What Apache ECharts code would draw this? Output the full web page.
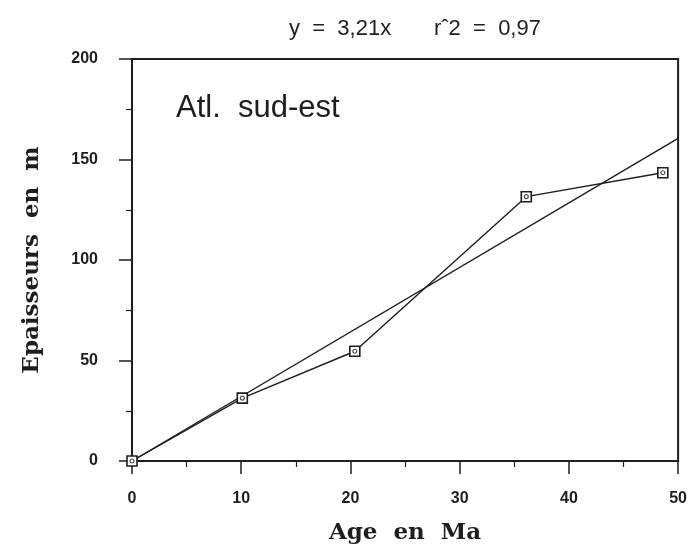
<!DOCTYPE html>
<html>
<head>
<meta charset="utf-8">
<script src="https://cdn.jsdelivr.net/npm/echarts@6/dist/echarts.min.js"></script>
<style>
  html, body { margin: 0; padding: 0; background: #fff; }
  #chart { width: 690px; height: 550px; }
</style>
</head>
<body>
<div id="chart"></div>
<script>
// Sediment thickness vs. age, south-east Atlantic
const ages = [0, 10.1, 20.4, 36.1, 48.6];           // Ma
const thickness = [0, 31.3, 54.6, 131.5, 143.4];    // m
const fitLine = [[0, 0], [50, 160.5]];              // y = 3,21x
const xTicks = [0, 10, 20, 30, 40, 50];
const yTicks = [0, 50, 100, 150, 200];
const equationText = 'y  =  3,21x       r\u02C62  =  0,97';
const regionText = 'Atl.  sud-est';

const points = ages.map((a, i) => [a, thickness[i]]);
const ink = '#1e1e1e';

const chart = echarts.init(document.getElementById('chart'), null, { renderer: 'canvas' });

const axisCommon = {
  axisLine: { show: true, onZero: false, lineStyle: { color: ink, width: 2 } },
  axisTick: { show: true, inside: false, length: 13, lineStyle: { color: ink, width: 1.5 } },
  minorTick: { show: true, splitNumber: 2, length: 6, lineStyle: { color: ink, width: 1.2 } },
  splitLine: { show: false },
  nameTextStyle: { fontFamily: 'DejaVu Serif', fontWeight: 'bold', fontSize: 23, color: ink }
};

chart.setOption({
  animation: false,
  backgroundColor: '#fff',
  title: [
    {
      text: equationText,
      left: 410, top: 13, textAlign: 'center',
      textStyle: { fontFamily: 'Liberation Sans', fontWeight: 'normal', fontSize: 22, color: ink }
    },
    {
      text: regionText,
      left: 171, top: 88,
      textStyle: { fontFamily: 'Liberation Sans', fontWeight: 'normal', fontSize: 31, color: ink }
    }
  ],
  grid: {
    left: 132, right: 10, top: 59, bottom: 88,
    show: true, borderColor: ink, borderWidth: 2, backgroundColor: 'transparent'
  },
  xAxis: Object.assign({}, axisCommon, {
    type: 'value', min: xTicks[0], max: xTicks[xTicks.length - 1], interval: 10,
    name: 'Age  en  Ma', nameLocation: 'middle', nameGap: 61,
    axisLabel: {
      margin: 30, fontFamily: 'Liberation Sans', fontWeight: 'bold', fontSize: 16, color: ink,
      formatter: v => xTicks.includes(v) ? String(v) : ''
    }
  }),
  yAxis: Object.assign({}, axisCommon, {
    type: 'value', min: yTicks[0], max: yTicks[yTicks.length - 1], interval: 50,
    name: 'Epaisseurs  en  m', nameLocation: 'middle', nameGap: 88, nameRotate: 90,
    axisLabel: {
      margin: 34, fontFamily: 'Liberation Sans', fontWeight: 'bold', fontSize: 16, color: ink,
      formatter: v => yTicks.includes(v) ? String(v) : ''
    }
  }),
  series: [
    {
      type: 'line',
      data: fitLine,
      symbol: 'none',
      lineStyle: { color: ink, width: 1.4 },
      z: 2
    },
    {
      type: 'line',
      data: points,
      symbol: 'rect',
      symbolSize: 10,
      itemStyle: { color: '#fff', borderColor: ink, borderWidth: 1.6 },
      lineStyle: { color: ink, width: 1.4 },
      z: 3
    },
    {
      type: 'scatter',
      data: points,
      symbol: 'circle',
      symbolSize: 4,
      itemStyle: { color: '#fff', borderColor: ink, borderWidth: 1.2 },
      z: 4
    }
  ]
});
</script>
</body>
</html>
